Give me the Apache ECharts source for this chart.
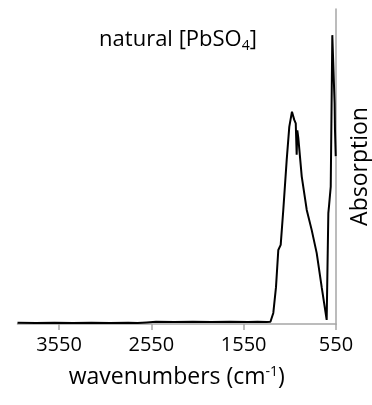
<!DOCTYPE html>
<html><head><meta charset="utf-8">
<script src="https://cdn.jsdelivr.net/npm/echarts@6/dist/echarts.min.js"></script>
<style>html,body{margin:0;padding:0;background:#fff}#c{width:372px;height:405px}</style>
</head><body><div id="c"></div>
<script>
// wavenumbers (cm-1) and absorption (arbitrary units, 0-100)
const wavenumbers = [4000,3800,3600,3400,3200,3000,2800,2700,2600,2500,2300,2100,1900,1700,1500,1400,1300,1260,1243,1229,1200,1175,1149,1121,1084,1056,1027,1002,986,976,969,958,921,867,813,759,705,651,633,626,624,607,590,572,565,561,553];
const absorption  = [0.4,0.3,0.4,0.3,0.4,0.3,0.4,0.3,0.5,0.7,0.6,0.7,0.6,0.7,0.6,0.7,0.6,0.7,1.0,3.5,11.7,23.5,25.1,36.2,52.1,62.6,67.4,64.8,63.7,53.7,61.5,59.0,46.8,36.2,29.8,22.5,11.7,1.3,35.2,35.2,38.0,43.6,91.7,76.0,70.0,61.6,53.3];
const tickValues = [550,1550,2550,3550];
const titleText = ['natural [PbSO','4',']'];
const xName = ['wavenumbers (cm','-1',')'];
const yName = 'Absorption';

const FONT = 'Open Sans';
const chart = echarts.init(document.getElementById('c'), null, {renderer:'canvas'});
chart.setOption({
  animation:false,
  title:{
    text:'{a|'+titleText[0]+'}{s|'+titleText[1]+'}{a|'+titleText[2]+'}',
    left:173, top:22, textAlign:'center',
    textStyle:{fontWeight:'normal',rich:{
      a:{fontFamily:FONT,fontSize:22,fontWeight:'normal',color:'#000'},
      s:{fontFamily:FONT,fontSize:14,fontWeight:'normal',color:'#000',verticalAlign:'bottom',padding:[12,0,0,0]}
    }}
  },
  grid:{left:17.5,right:36,top:9,bottom:81,outerBoundsMode:'none',containLabel:false},
  xAxis:{
    type:'value', inverse:true, min:550, max:4000,
    axisLine:{show:true,onZero:false,lineStyle:{color:'#a6a6a6',width:1.5}},
    axisTick:{show:true,customValues:tickValues,length:6,lineStyle:{color:'#a6a6a6',width:1.5}},
    axisLabel:{customValues:tickValues,formatter:v=>String(v),fontFamily:FONT,fontSize:20,color:'#000',margin:11},
    splitLine:{show:false},
    name:'{a|'+xName[0]+'}{s|'+xName[1]+'}{a|'+xName[2]+'}',
    nameLocation:'middle', nameGap:41,
    nameTextStyle:{rich:{
      a:{fontFamily:FONT,fontSize:23,color:'#000'},
      s:{fontFamily:FONT,fontSize:14,color:'#000',verticalAlign:'top',padding:[0,0,11,0]}
    }}
  },
  yAxis:{
    type:'value', position:'right', min:0, max:100,
    axisLine:{show:true,lineStyle:{color:'#a6a6a6',width:1.5}},
    axisTick:{show:false}, axisLabel:{show:false}, splitLine:{show:false},
    name:yName, nameLocation:'middle', nameRotate:90, nameGap:13,
    nameTextStyle:{fontFamily:FONT,fontSize:23,color:'#000'}
  },
  series:[{
    type:'line', data:wavenumbers.map((w,i)=>[w,absorption[i]]),
    showSymbol:false, smooth:false,
    lineStyle:{color:'#000',width:2}
  }]
});
</script></body></html>
